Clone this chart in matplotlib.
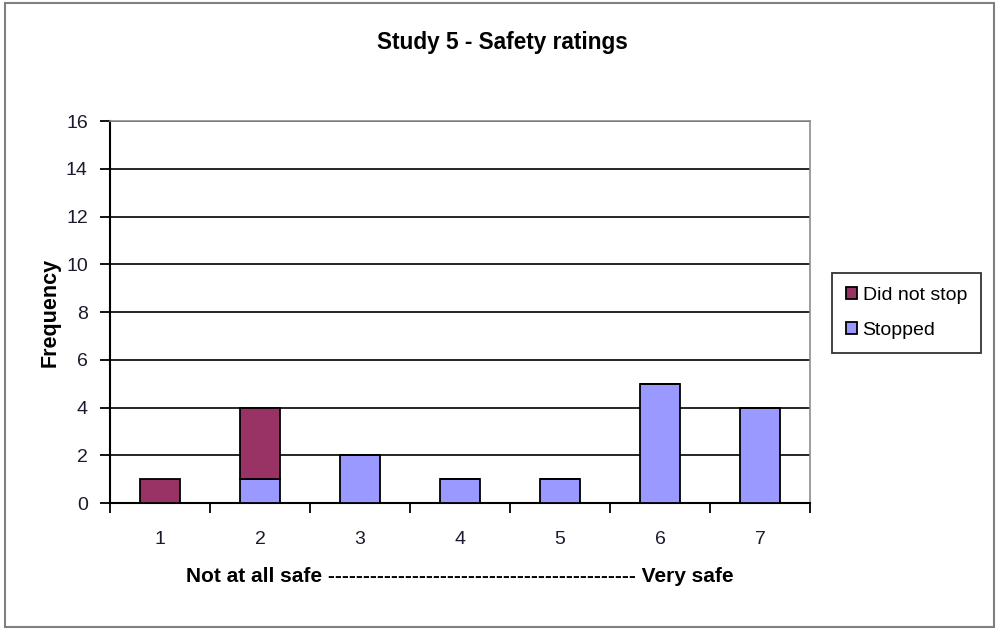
import matplotlib
matplotlib.use("Agg")
import matplotlib.pyplot as plt
from matplotlib.patches import Rectangle
import numpy as np

plt.rcParams['font.family'] = ['Liberation Sans', 'DejaVu Sans']

ratings = ["1", "2", "3", "4", "5", "6", "7"]
stopped = [0, 1, 2, 1, 1, 5, 4]
did_not_stop = [1, 3, 0, 0, 0, 0, 0]
y_ticks = [0, 2, 4, 6, 8, 10, 12, 14, 16]

W, H = 996, 629
fig = plt.figure(figsize=(W / 100, H / 100), dpi=100)
fig.patch.set_facecolor("white")

# outer chart frame
fig.add_artist(Rectangle((5 / W, 1 - 627 / H), (994 - 5) / W, (627 - 3) / H,
                         transform=fig.transFigure, fill=False,
                         edgecolor="#7f7f7f", linewidth=1.5))

ax = fig.add_axes([110 / W, 1 - 503 / H, 700 / W, (503 - 121) / H])
x = np.arange(1, len(ratings) + 1)

ax.set_axisbelow(True)
ax.yaxis.grid(True, color="black", linewidth=1.2)
ax.bar(x, stopped, width=0.4, color="#9999FF", edgecolor="black",
       linewidth=1.3, label="Stopped", zorder=3)
ax.bar(x, did_not_stop, width=0.4, bottom=stopped, color="#993366",
       edgecolor="black", linewidth=1.3, label="Did not stop", zorder=3)

ax.set_xlim(0.5, 7.5)
ax.set_ylim(0, 16)
ax.set_yticks(y_ticks)
ax.set_yticklabels([str(v) for v in y_ticks], fontsize=14, color="#1a1a2e")
ax.tick_params(axis="y", direction="out", length=7, width=1.3, pad=9)

ax.set_xticks(x)
ax.set_xticklabels(ratings, fontsize=14, color="#1a1a2e")
ax.tick_params(axis="x", which="major", length=0, pad=20)
ax.set_xticks(np.arange(0.5, 8.0, 1.0), minor=True)
ax.tick_params(axis="x", which="minor", direction="out", length=7, width=1.3)

for side in ("top", "right"):
    ax.spines[side].set_color("#8c8c8c")
    ax.spines[side].set_linewidth(1.2)
for side in ("left", "bottom"):
    ax.spines[side].set_color("black")
    ax.spines[side].set_linewidth(1.5)

ax.set_ylabel("Frequency", fontsize=15.5, fontweight="bold", labelpad=4)
ax.set_xlabel("Not at all safe " + "-" * 44 + " Very safe",
              fontsize=15, fontweight="bold", labelpad=14)

fig.text(502 / W, 1 - 43 / H, "Study 5 - Safety ratings", fontsize=16.3,
         fontweight="bold", ha="center", va="center")

handles, labels = ax.get_legend_handles_labels()
leg = fig.legend(handles[::-1], labels[::-1], loc="upper left",
                 bbox_to_anchor=(832 / W, 1 - 273 / H), borderaxespad=0,
                 fontsize=14, frameon=True, fancybox=False, edgecolor="black",
                 handlelength=0.57, handleheight=0.57, handletextpad=0.3,
                 labelspacing=0.95, borderpad=0.7)
leg.get_frame().set_linewidth(1.3)

fig.savefig("out.png", dpi=100)
